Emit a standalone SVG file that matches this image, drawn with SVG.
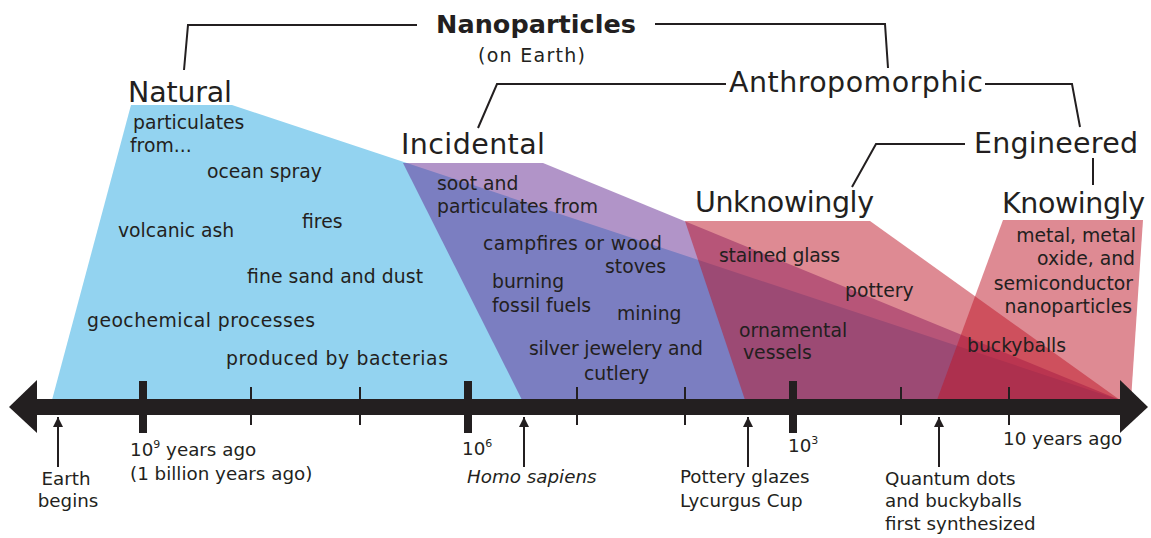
<svg xmlns="http://www.w3.org/2000/svg" width="1151" height="538" viewBox="0 0 1151 538">
  <style>
    .t { font-family: "DejaVu Sans", "Liberation Sans", sans-serif; font-size: 18.8px; fill: #231f20; }
    .cat { font-family: "DejaVu Sans", "Liberation Sans", sans-serif; font-size: 28.5px; fill: #231f20; }
    .title { font-family: "DejaVu Sans", "Liberation Sans", sans-serif; font-size: 25.5px; font-weight: bold; fill: #231f20; }
    .sub { font-family: "DejaVu Sans", "Liberation Sans", sans-serif; font-size: 19px; fill: #231f20; }
    .ax { font-family: "DejaVu Sans", "Liberation Sans", sans-serif; font-size: 18.3px; fill: #231f20; }
    .sup { font-size: 11px; }
    .link { fill: none; stroke: #231f20; stroke-width: 2; }
    .purple { fill: rgb(99,41,145); fill-opacity: 0.5; }
    .pink { fill: rgb(189,21,39); fill-opacity: 0.5; }
    .ink { fill: #231f20; }
    .up { stroke: #231f20; stroke-width: 2; marker-end: url(#ah); }
  </style>
  <defs>
    <marker id="ah" viewBox="0 0 10 10" refX="10" refY="5" markerWidth="10" markerHeight="10" markerUnits="userSpaceOnUse" orient="auto">
      <path d="M0,0 L10,5 L0,10 z" fill="#231f20"/>
    </marker>
  </defs>

  <!-- regions -->
  <g id="regions">
    <polygon id="region-natural" points="131,105 232,105 1120,400 52,400" fill="#93d3f0"/>
    <polygon id="region-incidental" class="purple" points="403,163 543,163 1120,400 522,400"/>
    <polygon id="region-unknowingly" class="pink" points="685,221 870,221 1120,400 745,400"/>
    <polygon id="region-knowingly" class="pink" points="1003,220 1143,220 1131,400 937,400"/>
  </g>

  <!-- timeline axis -->
  <g id="axis">
    <rect x="36" y="399" width="1086" height="16" class="ink"/>
    <polygon points="9,407 37,380 37,433" class="ink"/>
    <polygon points="1148,407 1120,380 1120,433" class="ink"/>
    <rect x="139" y="381" width="8" height="52" class="ink"/>
    <rect x="464" y="381" width="8" height="52" class="ink"/>
    <rect x="789" y="381" width="8" height="52" class="ink"/>
    <rect x="250" y="387" width="2" height="38" class="ink"/>
    <rect x="359" y="387" width="2" height="38" class="ink"/>
    <rect x="576" y="387" width="2" height="38" class="ink"/>
    <rect x="684" y="387" width="2" height="38" class="ink"/>
    <rect x="900" y="387" width="2" height="38" class="ink"/>
    <rect x="1008" y="387" width="2" height="38" class="ink"/>
    <text class="ax" x="130" y="456">10<tspan class="sup" dy="-8">9</tspan><tspan dy="8"> years ago</tspan></text>
    <text class="ax" x="130" y="480">(1 billion years ago)</text>
    <text class="ax" x="462" y="455">10<tspan class="sup" dy="-8">6</tspan></text>
    <text class="ax" x="788" y="452">10<tspan class="sup" dy="-8">3</tspan></text>
    <text class="ax" x="1003" y="445">10 years ago</text>
  </g>

  <!-- connectors -->
  <g id="connectors">
    <polyline class="link" points="417,25 188,25 184,70"/>
    <polyline class="link" points="655,24 885,24 888,68"/>
    <polyline class="link" points="726,84 497,84 478,128"/>
    <polyline class="link" points="985,84 1072,84 1080,127"/>
    <polyline class="link" points="965,144 876,144 852,187"/>
    <line class="link" x1="1093" y1="158" x2="1093" y2="185"/>
    <line class="up" x1="58" y1="467" x2="58" y2="417"/>
    <line class="up" x1="524" y1="467" x2="524" y2="417"/>
    <line class="up" x1="748" y1="467" x2="748" y2="417"/>
    <line class="up" x1="939" y1="467" x2="939" y2="417"/>
  </g>

  <!-- nodes -->
  <g id="node-nanoparticles">
    <text class="title" x="436" y="33" textLength="200">Nanoparticles</text>
    <text class="sub" x="478" y="62" textLength="107">(on Earth)</text>
  </g>

  <g id="node-anthropomorphic">
    <text class="cat" x="729" y="92" textLength="254">Anthropomorphic</text>
  </g>

  <g id="node-engineered">
    <text class="cat" x="974" y="153" textLength="164">Engineered</text>
  </g>

  <g id="node-natural">
    <text class="cat" x="128" y="102" textLength="104">Natural</text>
    <text class="t" x="133" y="129">particulates</text>
    <text class="t" x="130" y="152">from...</text>
    <text class="t" x="207" y="178">ocean spray</text>
    <text class="t" x="302" y="228">fires</text>
    <text class="t" x="118" y="237">volcanic ash</text>
    <text class="t" x="247" y="283" textLength="176">fine sand and dust</text>
    <text class="t" x="87" y="327" textLength="228">geochemical processes</text>
    <text class="t" x="226" y="365" textLength="222">produced by bacterias</text>
  </g>

  <g id="node-incidental">
    <text class="cat" x="401" y="154" textLength="144">Incidental</text>
    <text class="t" x="437" y="190">soot and</text>
    <text class="t" x="437" y="213" textLength="161">particulates from</text>
    <text class="t" x="483" y="250" textLength="179">campfires or wood</text>
    <text class="t" x="605" y="273">stoves</text>
    <text class="t" x="492" y="288">burning</text>
    <text class="t" x="492" y="312">fossil fuels</text>
    <text class="t" x="617" y="320">mining</text>
    <text class="t" x="529" y="355" textLength="174">silver jewelery and</text>
    <text class="t" x="584" y="380">cutlery</text>
  </g>

  <g id="node-unknowingly">
    <text class="cat" x="695" y="212" textLength="179">Unknowingly</text>
    <text class="t" x="719" y="262" textLength="121">stained glass</text>
    <text class="t" x="845" y="297">pottery</text>
    <text class="t" x="739" y="337">ornamental</text>
    <text class="t" x="743" y="359">vessels</text>
    <text class="t" x="967" y="352">buckyballs</text>
  </g>

  <g id="node-knowingly">
    <text class="cat" x="1002" y="213" textLength="143">Knowingly</text>
    <text class="t" x="1136" y="242" text-anchor="end">metal, metal</text>
    <text class="t" x="1135" y="265" text-anchor="end">oxide, and</text>
    <text class="t" x="1133" y="290" text-anchor="end">semiconductor</text>
    <text class="t" x="1132" y="313" text-anchor="end">nanoparticles</text>
  </g>

  <g id="events">
    <text class="ax" x="66" y="485" text-anchor="middle">Earth</text>
    <text class="ax" x="68" y="507" text-anchor="middle">begins</text>
    <text class="ax" x="467" y="483" font-style="italic">Homo sapiens</text>
    <text class="ax" x="680" y="483">Pottery glazes</text>
    <text class="ax" x="680" y="507">Lycurgus Cup</text>
    <text class="ax" x="885" y="485">Quantum dots</text>
    <text class="ax" x="885" y="507">and buckyballs</text>
    <text class="ax" x="885" y="530">first synthesized</text>
  </g>
</svg>
